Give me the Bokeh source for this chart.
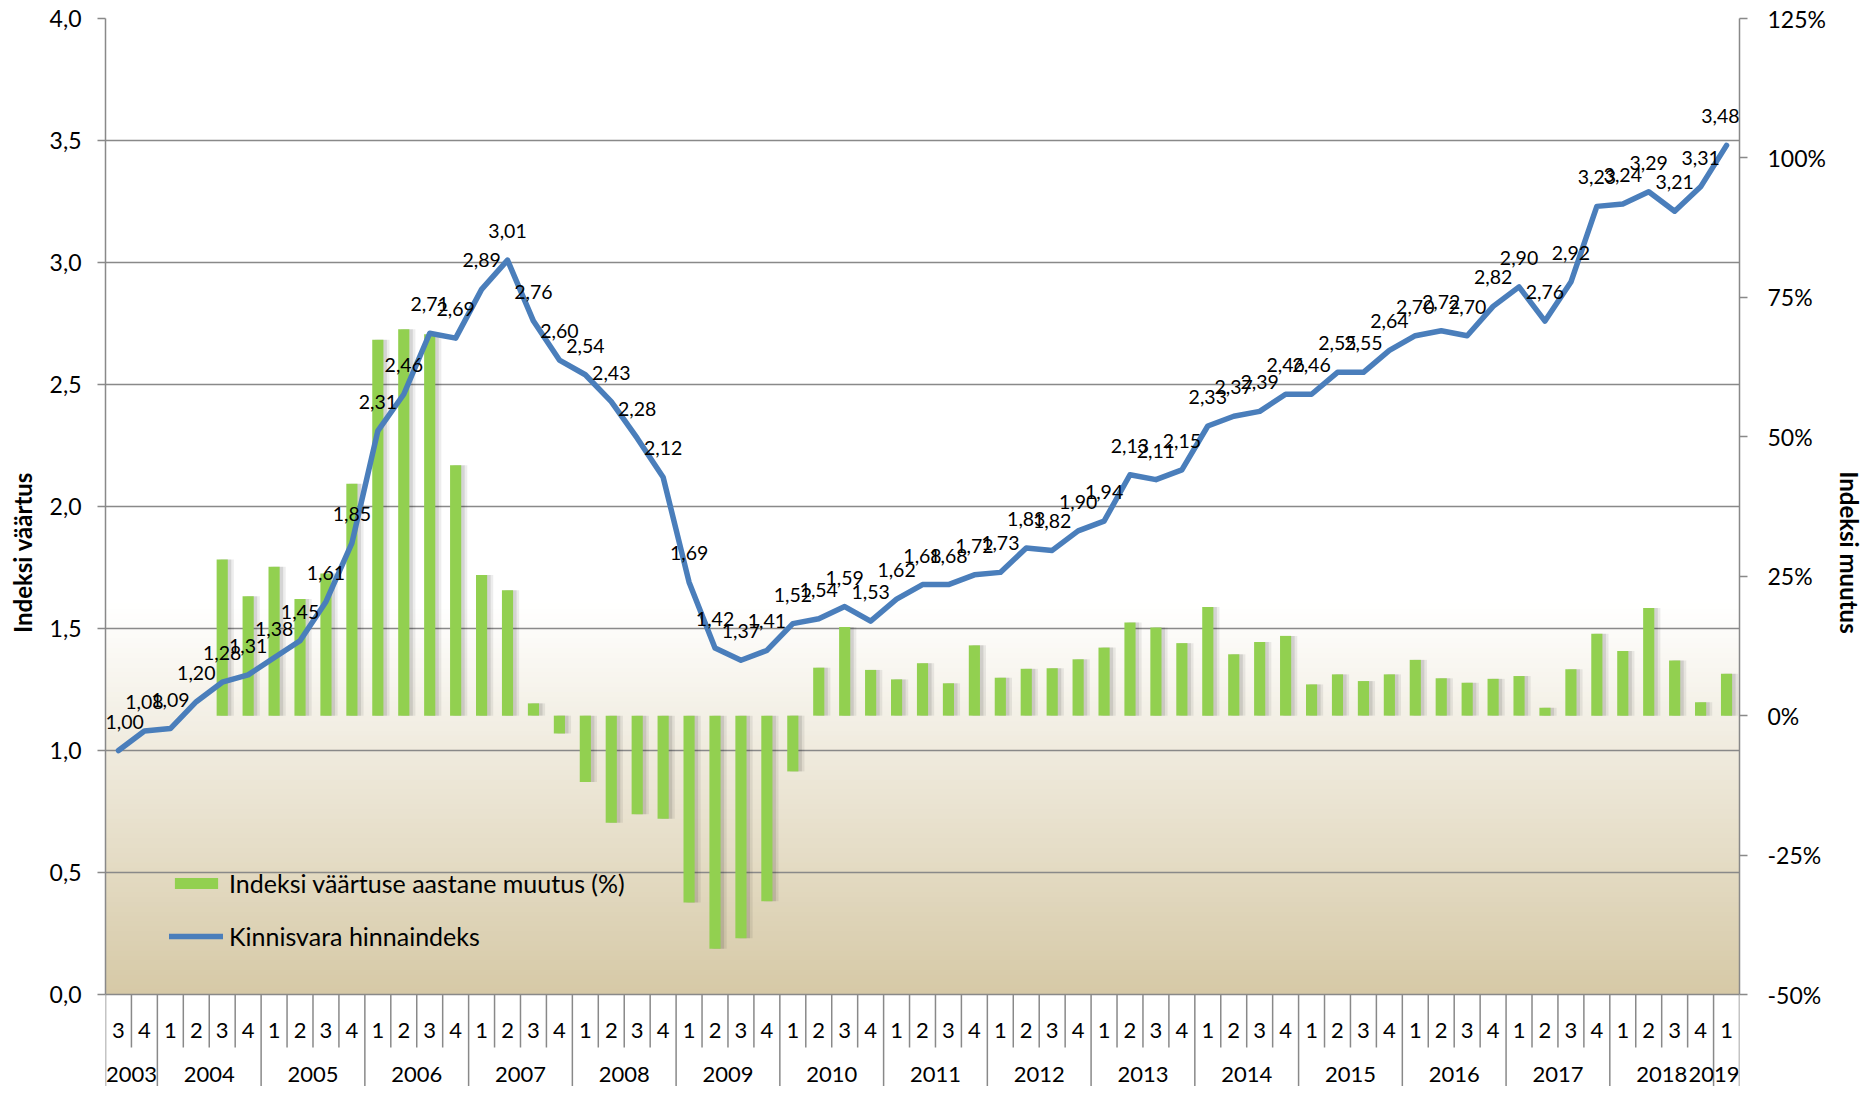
import numpy as np
from bokeh.plotting import figure
from bokeh.models import (Range1d, LinearAxis, FixedTicker, CustomJSTickFormatter,
                          ColumnDataSource, Legend, LegendItem, Label)
from bokeh.transform import dodge
from bokeh.embed import file_html
from bokeh.resources import INLINE

# ---------------- data ----------------
years = ["2003", "2004", "2005", "2006", "2007", "2008", "2009", "2010", "2011",
         "2012", "2013", "2014", "2015", "2016", "2017", "2018", "2019"]
quarters_by_year = [["3", "4"]] + [["1", "2", "3", "4"]] * 15 + [["1"]]

index_values = [1.00, 1.08,
                1.09, 1.20, 1.28, 1.31,
                1.38, 1.45, 1.61, 1.85,
                2.31, 2.46, 2.71, 2.69,
                2.89, 3.01, 2.76, 2.60,
                2.54, 2.43, 2.28, 2.12,
                1.69, 1.42, 1.37, 1.41,
                1.52, 1.54, 1.59, 1.53,
                1.62, 1.68, 1.68, 1.72,
                1.73, 1.83, 1.82, 1.90,
                1.94, 2.13, 2.11, 2.15,
                2.33, 2.37, 2.39, 2.46,
                2.46, 2.55, 2.55, 2.64,
                2.70, 2.72, 2.70, 2.82,
                2.90, 2.76, 2.92, 3.23,
                3.24, 3.29, 3.21, 3.31,
                3.48]

annual_change_pct = [None, None,
                     None, None, 28.0, 21.4,
                     26.7, 20.9, 25.5, 41.6,
                     67.4, 69.3, 68.4, 44.9,
                     25.2, 22.5, 2.2, -3.2,
                     -11.9, -19.2, -17.7, -18.5,
                     -33.5, -41.8, -39.9, -33.3,
                     -10.0, 8.6, 15.9, 8.2,
                     6.5, 9.4, 5.8, 12.6,
                     6.8, 8.4, 8.5, 10.1,
                     12.2, 16.7, 15.8, 13.0,
                     19.5, 11.0, 13.2, 14.3,
                     5.6, 7.4, 6.2, 7.4,
                     10.0, 6.7, 5.9, 6.6,
                     7.1, 1.4, 8.3, 14.7,
                     11.6, 19.3, 9.9, 2.4,
                     7.5]

left_ticks = [0.0, 0.5, 1.0, 1.5, 2.0, 2.5, 3.0, 3.5, 4.0]
right_ticks = [-50, -25, 0, 25, 50, 75, 100, 125]

series_bar_name = "Indeksi väärtuse aastane muutus (%)"
series_line_name = "Kinnisvara hinnaindeks"
left_title = "Indeksi väärtus"
right_title = "Indeksi muutus"

# ---------------- layout ----------------
n = len(index_values)
xs = list(range(n))
quarter_labels = [q for qs in quarters_by_year for q in qs]

W, H = 1866, 1086
FL, FT = 105, 18
FRAME_W = 1637
FR = W - FL - FRAME_W
PLOT_H = 976                       # pixels from 4,0 down to 0,0
frame_h = H - FT
px_per_unit = PLOT_H / (left_ticks[-1] - left_ticks[0])
y_top = left_ticks[-1]
y_bottom = y_top - frame_h / px_per_unit
px_per_pct = PLOT_H / (right_ticks[-1] - right_ticks[0])
pct_top = right_ticks[-1]
pct_bottom = pct_top - frame_h / px_per_pct


def y_at_canvas(py):
    return y_top - (py - FT) / px_per_unit


FONT = "Lato"
GRAY = "#898989"
GREEN = "#92D050"
BLUE = "#4A7EBB"

p = figure(width=W, height=H, x_range=Range1d(-0.5, n - 0.5),
           y_range=Range1d(y_bottom, y_top), output_backend="svg",
           toolbar_location=None, title=None, x_axis_location=None,
           min_border_left=FL, min_border_right=FR, min_border_top=FT,
           min_border_bottom=0)
p.extra_y_ranges = {"pct": Range1d(pct_bottom, pct_top)}
p.outline_line_color = None
p.background_fill_color = "white"
p.border_fill_color = "white"
p.xgrid.visible = False

g = p.ygrid[0]
g.ticker = FixedTicker(ticks=left_ticks)
g.grid_line_color = GRAY
g.grid_line_width = 1.5


def style_axis(ax, standoff):
    ax.axis_line_color = GRAY
    ax.axis_line_width = 1.5
    ax.major_tick_line_color = GRAY
    ax.major_tick_line_width = 1.5
    ax.major_tick_out = 8
    ax.major_tick_in = 0
    ax.minor_tick_line_color = None
    ax.major_label_standoff = standoff
    ax.major_label_text_font = FONT
    ax.major_label_text_font_size = "23px"
    ax.major_label_text_color = "black"


# left axis
ya = p.yaxis[0]
ya.ticker = FixedTicker(ticks=left_ticks)
ya.formatter = CustomJSTickFormatter(code="return tick.toFixed(1).replace('.', ',')")
ya.bounds = (left_ticks[0], left_ticks[-1])
style_axis(ya, 16)
ya.axis_label = left_title
ya.axis_label_text_font = FONT
ya.axis_label_text_font_style = "bold"
ya.axis_label_text_font_size = "24px"
ya.axis_label_text_color = "black"
ya.axis_label_standoff = 10

# right axis
ra = LinearAxis(y_range_name="pct")
ra.ticker = FixedTicker(ticks=right_ticks)
ra.formatter = CustomJSTickFormatter(code="return tick.toFixed(0) + '%'")
ra.bounds = (right_ticks[0], right_ticks[-1])
style_axis(ra, 20)
ra.axis_label = right_title
ra.axis_label_text_font = FONT
ra.axis_label_text_font_style = "bold"
ra.axis_label_text_font_size = "24px"
ra.axis_label_text_color = "black"
ra.axis_label_standoff = 6
p.add_layout(ra, "right")

# background gradient (white -> parchment) in the lower part of the plot area
grad_top = 1.6
steps = 80
edges = np.linspace(0, grad_top, steps + 1)
bottom_rgb = np.array([214, 201, 166])
cols = []
for k in range(steps):
    t = (k + 0.5) / steps
    c = bottom_rgb + (255 - bottom_rgb) * t
    cols.append("#%02x%02x%02x" % tuple(int(round(v)) for v in c))
p.quad(left=-0.5, right=n - 0.5, bottom=edges[:-1], top=edges[1:] + 0.006,
       fill_color=cols, line_color=None, level="image")

# bars
bx = [i for i in xs if annual_change_pct[i] is not None]
bv = [annual_change_pct[i] for i in bx]
bsrc = ColumnDataSource(dict(x=bx, pct=bv))
p.vbar(x=dodge("x", 0.20, range=p.x_range), width=0.50, top="pct", bottom=0,
       source=bsrc, y_range_name="pct", fill_color="black", fill_alpha=0.07,
       line_color=None)
p.vbar(x=dodge("x", 0.12, range=p.x_range), width=0.46, top="pct", bottom=0,
       source=bsrc, y_range_name="pct", fill_color="black", fill_alpha=0.10,
       line_color=None)
bars = p.vbar(x="x", width=0.43, top="pct", bottom=0, source=bsrc,
              y_range_name="pct", fill_color=GREEN, line_color=None)

# line
lsrc = ColumnDataSource(dict(x=xs, v=index_values))
line = p.line(x="x", y="v", source=lsrc, line_color=BLUE, line_width=5.5,
              line_join="round", line_cap="round")


def add_text(xv, yv, txt, size, y_off=0, edge_i=None):
    # texts at the first / last category are kept inside the plot frame
    align, x_pos = "center", xv
    if edge_i == 0:
        align, x_pos = "left", -0.5
    elif edge_i == n - 1:
        align, x_pos = "right", n - 0.5
    p.add_layout(Label(x=x_pos, y=yv, y_offset=y_off, text=txt, text_align=align,
                       text_baseline="middle", text_font=FONT,
                       text_font_size=size, text_color="black"))


# data labels
for i, v in zip(xs, index_values):
    add_text(i, v, ("%.2f" % v).replace(".", ","), "19.5px", y_off=29,
             edge_i=i if i in (0, n - 1) else None)

# category axis (two-level table)
y_short = y_at_canvas(1047)
y_long = y_bottom
sep_x, sep_y1 = [], []
for i in range(n + 1):
    is_year = (i == 0) or (i == n) or (quarter_labels[i] == "1")
    sep_x.append(i - 0.5)
    sep_y1.append(y_long if is_year else y_short)
p.segment(x0=sep_x, y0=[0] * len(sep_x), x1=sep_x, y1=sep_y1,
          line_color=GRAY, line_width=1.5)

y_q = y_at_canvas(1030)
for i, q in zip(xs, quarter_labels):
    add_text(i, y_q, q, "22px")
y_y = y_at_canvas(1074)
pos = 0
for yr, qs in zip(years, quarters_by_year):
    last = pos + len(qs) - 1
    add_text(pos + (len(qs) - 1) / 2, y_y, yr, "22px",
             edge_i=(n - 1) if (last == n - 1 and len(qs) == 1) else None)
    pos += len(qs)

legend = Legend(items=[LegendItem(label=series_bar_name, renderers=[bars]),
                       LegendItem(label=series_line_name, renderers=[line])],
                location=(64, 135), padding=0, spacing=23, glyph_width=54,
                glyph_height=14, label_height=26, label_standoff=6,
                label_text_font=FONT, label_text_font_size="25px",
                label_text_color="black", background_fill_alpha=0,
                border_line_color=None)
p.add_layout(legend)

open("out.html", "w").write(file_html(p, INLINE))
